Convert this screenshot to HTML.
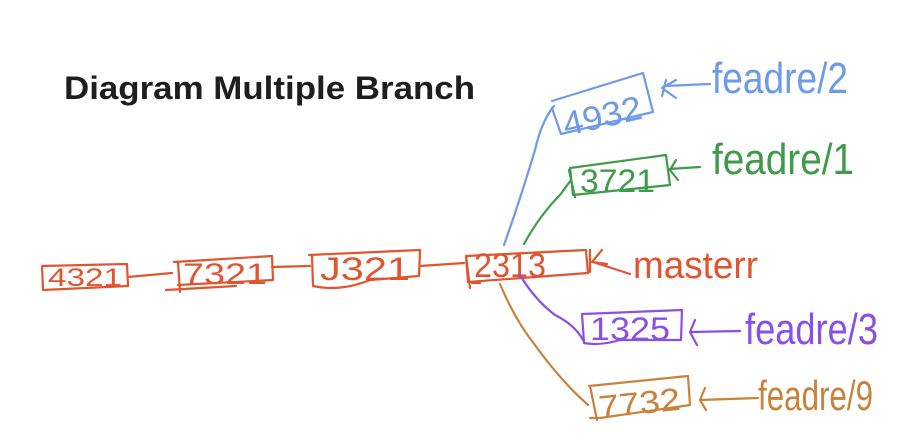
<!DOCTYPE html>
<html><head><style>
html,body{margin:0;padding:0;background:#fff;width:898px;height:448px;overflow:hidden}
svg{display:block}
.h{font-family:"Liberation Sans",sans-serif;font-weight:normal}
</style></head><body>
<svg width="898" height="448" viewBox="0 0 898 448" xmlns="http://www.w3.org/2000/svg">
<text x="64" y="99" font-family="Liberation Sans, sans-serif" font-weight="bold" font-size="32" fill="#1e1e1e" textLength="411" lengthAdjust="spacingAndGlyphs">Diagram Multiple Branch</text>
<g fill="none" stroke-width="2.2" stroke-linecap="round" stroke-linejoin="round">
<g stroke="#e0552f">
<path d="M42 266 L127 264 L128 286 L43 290 Z"/>
<path d="M128 277 L172 273"/>
<path d="M174 262 L272 256 L273 280 L178 285 M166 290 L236 286 M178 262 L180 292"/>
<path d="M272 267 L310 266"/>
<path d="M309 255 L420 250 L419 276 L370 280 Q340 292 313 286 L312 256"/>
<path d="M420 266 L464 263"/>
<path d="M466 256 L586 250 L588 273 L468 282 Z M466 256 L470 288 M472 283 L480 283"/>
<path d="M590 250 L590 272 M592 262 L602 250 M592 262 L607 264 M593 262 L630 274"/>
</g>
<text x="474" y="277" class="h" font-size="34" fill="#e0552f" stroke="none" textLength="72" lengthAdjust="spacingAndGlyphs">2313</text>
<text x="48" y="286" class="h" font-size="25" fill="#e0552f" stroke="none" textLength="74" lengthAdjust="spacingAndGlyphs">4321</text>
<text x="183" y="284" class="h" font-size="30" fill="#e0552f" stroke="none" textLength="84" lengthAdjust="spacingAndGlyphs">7321</text>
<text x="320" y="280" class="h" font-size="32" fill="#e0552f" stroke="none" textLength="90" lengthAdjust="spacingAndGlyphs">J321</text>
<text x="633" y="278" class="h" font-size="38" fill="#e0552f" stroke="none" textLength="125" lengthAdjust="spacingAndGlyphs">masterr</text>
<g stroke="#6e9be6">
<path d="M504 245 Q520 200 535 150 Q542 120 554 106"/>
<path d="M552 101 L643 73 L653 112 L561 134 L552 108"/>
<path d="M666 80 L662 96 M662 88 L676 80 M662 88 L676 98 M664 86 L710 84"/>
</g>
<text x="562" y="128" class="h" font-size="34" fill="#6e9be6" stroke="none" textLength="80" lengthAdjust="spacingAndGlyphs" transform="rotate(-13 600 115)">4932</text>
<text x="712" y="93" class="h" font-size="44" fill="#6e9be6" stroke="none" textLength="136" lengthAdjust="spacingAndGlyphs">feadre/2</text>
<g stroke="#3f9a4a">
<path d="M524 244 Q540 215 560 195 L571 180"/>
<path d="M570 168 L666 155 L670 185 L573 195 Z M569 170 L575 197"/>
<path d="M669 169 L700 167 M676 160 L670 170 L678 180"/>
</g>
<text x="580" y="192" class="h" font-size="32" fill="#3f9a4a" stroke="none" textLength="75" lengthAdjust="spacingAndGlyphs">3721</text>
<text x="712" y="174" class="h" font-size="44" fill="#3f9a4a" stroke="none" textLength="142" lengthAdjust="spacingAndGlyphs">feadre/1</text>
<g stroke="#8a4fe8">
<path d="M520 275 Q535 300 555 315 Q575 325 583 340"/>
<path d="M582 314 L682 310 L681 340 L620 340 Q600 346 584 343 Z"/>
<path d="M692 332 L740 331 M695 320 L690 332 L697 345"/>
</g>
<text x="590" y="340" class="h" font-size="32" fill="#8a4fe8" stroke="none" textLength="80" lengthAdjust="spacingAndGlyphs">1325</text>
<text x="745" y="344" class="h" font-size="44" fill="#8a4fe8" stroke="none" textLength="133" lengthAdjust="spacingAndGlyphs">feadre/3</text>
<g stroke="#c8823a">
<path d="M500 284 Q515 320 535 345 Q560 380 588 405"/>
<path d="M589 386 L688 376 L690 405 L600 418 L590 418 M590 386 L597 420"/>
<path d="M700 400 L758 398 M705 388 L700 400 L706 410"/>
</g>
<text x="598" y="414" class="h" font-size="32" fill="#c8823a" stroke="none" textLength="82" lengthAdjust="spacingAndGlyphs" transform="rotate(-6 640 400)">7732</text>
<text x="758" y="410" class="h" font-size="42" fill="#c8823a" stroke="none" textLength="115" lengthAdjust="spacingAndGlyphs">feadre/9</text>
</g>
</svg>
</body></html>
